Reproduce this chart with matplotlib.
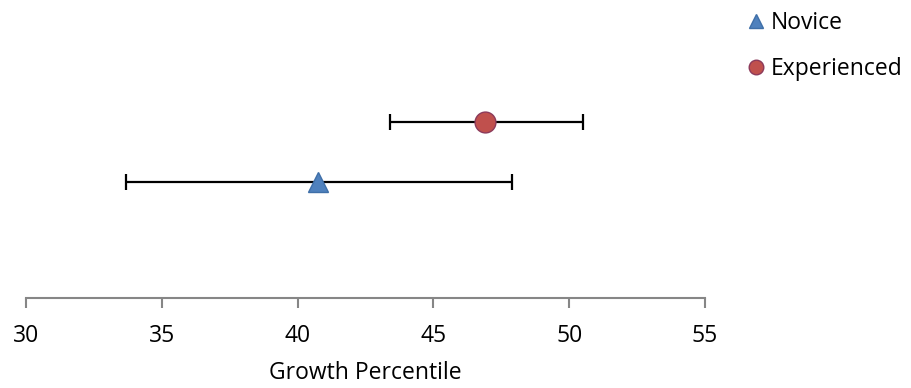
import matplotlib
matplotlib.use("Agg")
import matplotlib.pyplot as plt

plt.rcParams['font.family'] = ['Open Sans', 'DejaVu Sans']

# Datos
grupos = ['Novice', 'Experienced']
media = [40.75, 46.9]
inferior = [33.7, 43.4]
superior = [47.9, 50.5]
ticks_x = [30, 35, 40, 45, 50, 55]

pos_y = [1.93, 2.93]
estilos = {
    'Novice': dict(marker='^', color='#4F81BD', mec='#3F6FA8', ms=14),
    'Experienced': dict(marker='o', color='#C0504D', mec='#8C3A5A', ms=15),
}

fig = plt.figure(figsize=(9.11, 3.88), dpi=100)
ax = fig.add_axes([26 / 911, 1 - 298 / 388, (705 - 26) / 911, 270 / 388])

for g, m, lo, hi, y in zip(grupos, media, inferior, superior, pos_y):
    ax.errorbar(m, y, xerr=[[m - lo], [hi - m]], fmt='none', ecolor='black',
                elinewidth=1.6, capsize=5.5, capthick=1.6, zorder=2)
    ax.plot(m, y, linestyle='none', mew=1, label=g, zorder=3, **estilos[g])

ax.set_xlim(30, 55)
ax.set_ylim(0, 4.5)
ax.set_xticks(ticks_x)
ax.set_yticks([])
for s in ['top', 'right', 'left']:
    ax.spines[s].set_visible(False)
ax.spines['bottom'].set_color('#868686')
ax.spines['bottom'].set_linewidth(1.5)
ax.tick_params(axis='x', direction='out', length=7, width=1.5, color='#868686',
               labelsize=16.5, pad=12)
ax.set_xlabel('Growth Percentile', fontsize=16.5, labelpad=9)

ax.legend(loc='upper left', bbox_to_anchor=(727 / 911, 1.025), bbox_transform=fig.transFigure,
          frameon=False, fontsize=16.5, handlelength=0.7, handletextpad=0.3,
          labelspacing=0.95, markerscale=0.7)

fig.savefig('out.png', dpi=100)
